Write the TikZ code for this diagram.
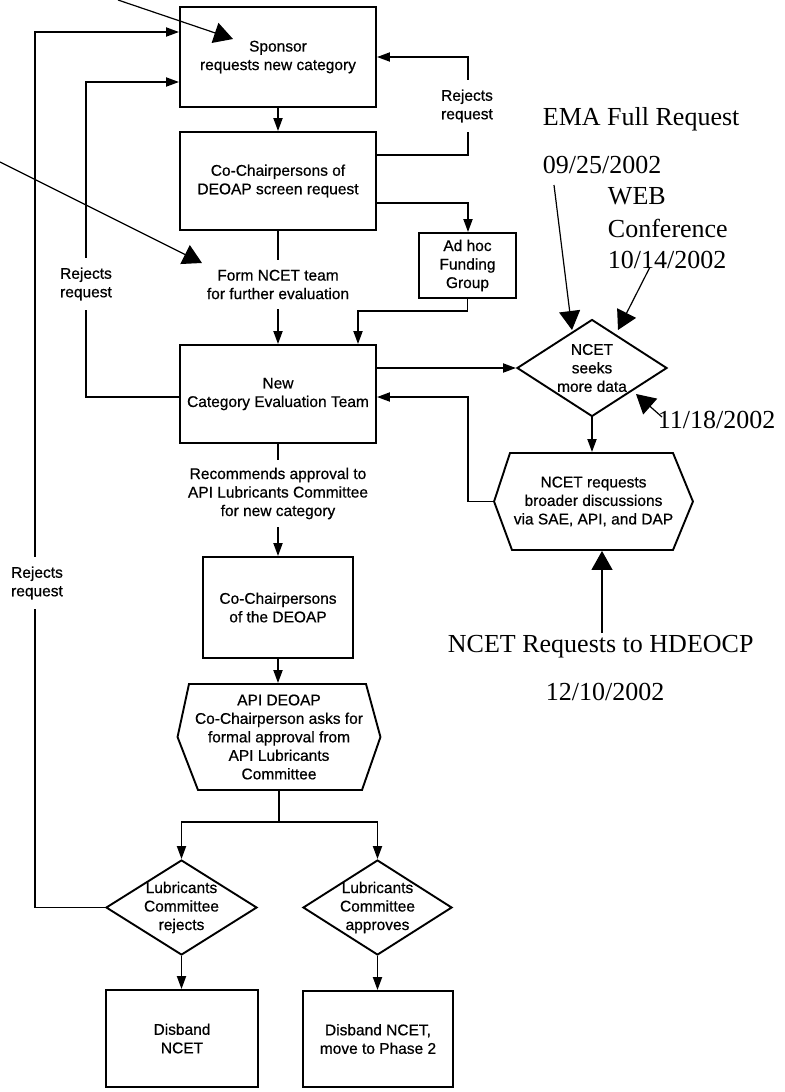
\documentclass[tikz,border=0pt]{standalone}
\usepackage{fontspec}
\setsansfont[FakeBold=0.6]{Liberation Sans}
\newfontfamily\annfamily{Liberation Serif}
\usetikzlibrary{arrows.meta,shapes.geometric,calc}
\newcommand\flowfont{\sffamily\fontsize{15.5bp}{18.5bp}\selectfont}
\newcommand\annfont{\annfamily\fontsize{26bp}{32bp}\selectfont}
\begin{document}
\begin{tikzpicture}[x=1bp,y=-1bp,line width=1.9bp,
  box/.style={draw,rectangle,inner sep=0pt,align=center,font=\flowfont},
  dia/.style={draw,diamond,inner sep=-14bp,align=center,font=\flowfont},
  txt/.style={inner sep=0pt,align=center,font=\flowfont},
  lab/.style={txt,fill=white,inner xsep=2bp,inner ysep=10bp},
  arr/.style={-{Triangle[length=13bp,width=9bp]}},
  ann/.style={font=\annfont,inner sep=0pt,anchor=base west},
  annarr/.style={line width=1.2bp,-{Triangle[length=19bp,width=21bp]}}]
\fill[white] (0,0) rectangle (785,1092);
\useasboundingbox (0,0) rectangle (785,1092);

% flowchart nodes
\node[box,minimum width=196bp,minimum height=100bp] (sponsor) at (278,57) {Sponsor\\requests new category};
\node[box,minimum width=196bp,minimum height=98bp] (screen) at (278,181) {Co-Chairpersons of\\DEOAP screen request};
\node[txt,inner sep=9bp] (form) at (278,284.5) {Form NCET team\\for further evaluation};
\node[box,minimum width=97bp,minimum height=65bp] (adhoc) at (467.5,265.5) {Ad hoc\\Funding\\Group};
\node[box,minimum width=196bp,minimum height=98bp] (ncet) at (278,394) {New\\Category Evaluation Team};
\node[dia,minimum width=150bp,minimum height=97bp] (seeks) at (592,368) {NCET\\seeks\\more data};
\node[txt,minimum width=197bp,minimum height=97bp] (broad) at (593.5,501.5) {NCET requests\\broader discussions\\via SAE, API, and DAP};
\draw (broad.west) -- (510,453) -- (673,453) -- (broad.east) -- (673,550) -- (512,550) -- cycle;
\node[txt,inner sep=7bp] (recom) at (278,493.5) {Recommends approval to\\API Lubricants Committee\\for new category};
\node[box,minimum width=150bp,minimum height=101bp] (cochair) at (278,607.5) {Co-Chairpersons\\of the DEOAP};
\node[txt,minimum width=201bp,minimum height=106bp] (api) at (279,737) {API DEOAP\\Co-Chairperson asks for\\formal approval from\\API Lubricants\\Committee};
\draw (api.west) -- (189,684) -- (366,684) -- (api.east) -- (362,790) -- (198,790) -- cycle;
\node[dia,minimum width=151bp,minimum height=95bp] (rej) at (181.5,907.5) {Lubricants\\Committee\\rejects};
\node[dia,minimum width=149bp,minimum height=95bp] (app) at (377.5,907.5) {Lubricants\\Committee\\approves};
\node[box,minimum width=152bp,minimum height=97bp] (disL) at (182,1038.5) {Disband\\NCET};
\node[box,minimum width=150bp,minimum height=96bp] (disR) at (378,1039) {Disband NCET,\\move to Phase 2};

% connectors
\coordinate (rr1) at (468,155);
\coordinate (rr2) at (468,57);
\coordinate (ah) at (468,203);
\coordinate (a1) at (358,311);
\coordinate (b1) at (468,397);
\coordinate (l1) at (86,82);
\coordinate (sp) at (279,822);
\coordinate (o1) at (35,32);
\draw[arr] (sponsor.south) -- (screen.north);
\draw[arr] (screen.east |- rr1) -- (rr1) -- (rr2) -- (sponsor.east |- rr2);
\draw[arr] (screen.east |- ah) -- (ah) -- (ah |- adhoc.north);
\draw (screen.south) -- (form.north);
\draw[arr] (form.south) -- (form.south |- ncet.north);
\draw[arr] (adhoc.south) |- (a1) -- (a1 |- ncet.north);
\draw[arr] (ncet.east |- seeks.west) -- (seeks.west);
\draw[arr] (broad.west) -| (b1) -- (ncet.east |- b1);
\draw[arr] (seeks.south) -- (seeks.south |- broad.north);
\draw[arr] (ncet.west |- b1) -| (l1) -- (sponsor.west |- l1);
\draw (ncet.south) -- (recom.north);
\draw[arr] (recom.south) -- (recom.south |- cochair.north);
\draw[arr] (cochair.south) -- (cochair.south |- api.north);
\draw (api.south) -- (sp);
\draw[arr] (sp) -| (rej.north);
\draw[arr] (sp) -| (app.north);
\draw[arr] (rej.south) -- (rej.south |- disL.north);
\draw[arr] (app.south) -- (app.south |- disR.north);
\draw[arr] (rej.west) -| (o1) -- (sponsor.west |- o1);

% loop labels
\node[lab] (rj1) at (467,106) {Rejects\\request};
\node[lab] (rj2) at (86,284) {Rejects\\request};
\node[lab] (rj3) at (37,583) {Rejects\\request};

% annotations
\node[ann] (ema) at (542,125) {EMA Full Request};
\node[ann] (d1) at (542,173) {09/25/2002};
\node[ann] (web) at (607,204) {WEB};
\node[ann] (conf) at (607,237) {Conference};
\node[ann] (d2) at (607,268) {10/14/2002};
\node[ann] (d3) at (657,428) {11/18/2002};
\node[ann] (hd) at (447,652) {NCET Requests to HDEOCP};
\node[ann] (d4) at (545,700) {12/10/2002};

\coordinate (s1) at (118,0);   \coordinate (t1) at (233,39);
\coordinate (s2) at (0,162);   \coordinate (t2) at (202,263);
\coordinate (s3) at (554,185); \coordinate (t3) at (572,330);
\coordinate (s4) at (650,267); \coordinate (t4) at (618,330);
\coordinate (s5) at (662,417); \coordinate (t5) at (636,394);
\coordinate (s6) at (602,633);
\draw[annarr] (s1) -- (t1);
\draw[annarr] (s2) -- (t2);
\draw[annarr] (s3) -- (t3);
\draw[annarr] (s4) -- (t4);
\draw[annarr] (s5) -- (t5);
\draw[annarr] (s6) -- (s6 |- broad.south);
\end{tikzpicture}
\end{document}
